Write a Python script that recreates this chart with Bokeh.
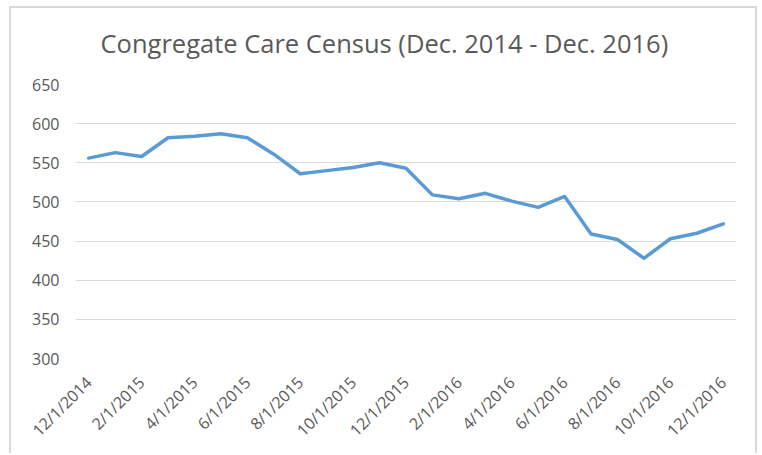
import math
from bokeh.plotting import figure
from bokeh.models import FixedTicker, Range1d, Title
from bokeh.embed import file_html
from bokeh.resources import INLINE

dates = ["12/1/2014", "1/1/2015", "2/1/2015", "3/1/2015", "4/1/2015", "5/1/2015",
         "6/1/2015", "7/1/2015", "8/1/2015", "9/1/2015", "10/1/2015", "11/1/2015",
         "12/1/2015", "1/1/2016", "2/1/2016", "3/1/2016", "4/1/2016", "5/1/2016",
         "6/1/2016", "7/1/2016", "8/1/2016", "9/1/2016", "10/1/2016", "11/1/2016",
         "12/1/2016"]
census = [556, 563, 558, 582, 584, 587, 582, 561, 536, 540, 544, 550,
          543, 509, 504, 511, 501, 493, 507, 459, 452, 428, 453, 460, 472]
y_ticks = [300, 350, 400, 450, 500, 550, 600, 650]
title_text = "Congregate Care Census (Dec. 2014 - Dec. 2016)"

idx = list(range(len(dates)))
label_idx = idx[::2]

FONT = "Open Sans"
GRAY = "#595959"

W, H = 760, 453
LEFT, RIGHT, TOP, BOTTOM = 75, 24, 84, 95

p = figure(width=W, height=H, output_backend="svg", toolbar_location=None,
           x_range=Range1d(-0.5, len(dates) - 0.5), y_range=Range1d(300, 650),
           min_border_left=LEFT, min_border_right=RIGHT, min_border_top=TOP,
           min_border_bottom=BOTTOM, background_fill_color="white",
           border_fill_alpha=0, outline_line_color=None, title=None)

# chart-area border (Excel style), drawn with CSS shadows on the plot's host element
p.styles = {
    "background-color": "white",
    "box-shadow": ("inset 9px 0 0 0 white, inset 0 6px 0 0 white, inset -3px 0 0 0 white, "
                   "inset 11px 0 0 0 #d9d9d9, inset 0 8px 0 0 #d9d9d9, inset -5px 0 0 0 #d9d9d9"),
}

p.line(idx, census, line_color="#5B9BD5", line_width=3.5, line_join="round",
       line_cap="round")

p.xaxis.ticker = FixedTicker(ticks=label_idx)
p.xaxis.major_label_overrides = {i: dates[i] for i in label_idx}
p.xaxis.major_label_orientation = math.pi / 4
p.yaxis.ticker = FixedTicker(ticks=y_ticks)
for ax in (p.xaxis, p.yaxis):
    ax.axis_line_color = None
    ax.major_tick_line_color = None
    ax.minor_tick_line_color = None
    ax.major_label_text_font = FONT
    ax.major_label_text_font_size = "16px"
    ax.major_label_text_color = GRAY
p.xaxis.major_label_standoff = 15
p.yaxis.major_label_standoff = 10

p.xgrid.grid_line_color = None
p.ygrid.grid_line_color = "#D9D9D9"
p.ygrid.grid_line_width = 1

# blank spacer next to the plot area (first "above" item sits closest to the frame)
spacer = Title(text=" ", text_font_size="21px", standoff=0)
p.add_layout(spacer, "above")
main_title = Title(text=title_text, text_font=FONT, text_font_size="25.5px",
                   text_font_style="normal", text_color=GRAY, align="left",
                   offset=25, standoff=0)
p.add_layout(main_title, "above")

open("out.html", "w").write(file_html(p, INLINE))
